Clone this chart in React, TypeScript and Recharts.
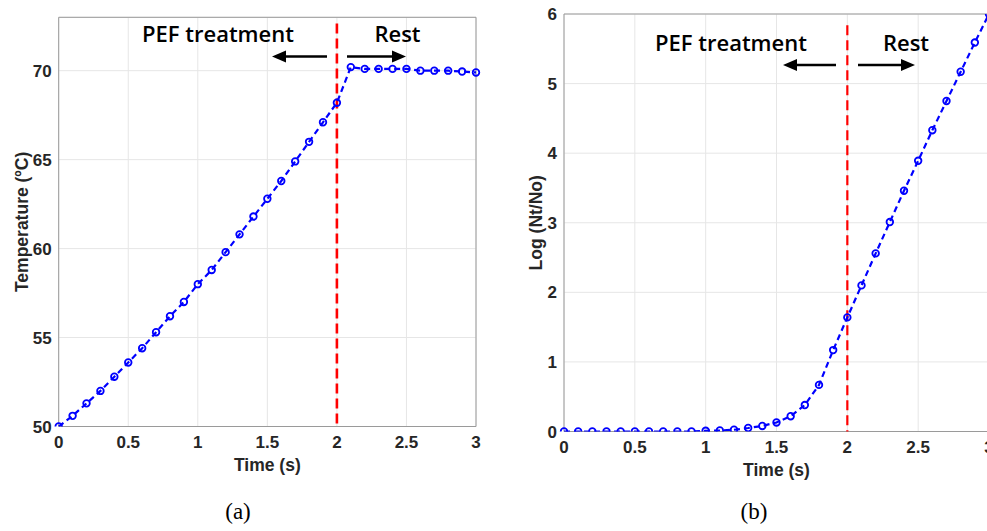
import {
  LineChart,
  Line,
  XAxis,
  YAxis,
  CartesianGrid,
  ReferenceLine,
  ReferenceArea,
} from "recharts";

const timeS = [
  0, 0.1, 0.2, 0.3, 0.4, 0.5, 0.6, 0.7, 0.8, 0.9, 1, 1.1, 1.2, 1.3, 1.4, 1.5,
  1.6, 1.7, 1.8, 1.9, 2, 2.1, 2.2, 2.3, 2.4, 2.5, 2.6, 2.7, 2.8, 2.9, 3,
];
const temperatureC = [
  50, 50.6, 51.3, 52.0, 52.8, 53.6, 54.4, 55.3, 56.2, 57.0, 58.0, 58.8, 59.8,
  60.8, 61.8, 62.8, 63.8, 64.9, 66.0, 67.1, 68.2, 70.2, 70.1, 70.1, 70.1, 70.1,
  70.0, 70.0, 70.0, 69.95, 69.9,
];
const logNtNo = [
  0, 0, 0, 0, 0, 0, 0, 0, 0, 0, 0.01, 0.015, 0.025, 0.05, 0.08, 0.13, 0.22,
  0.38, 0.67, 1.17, 1.64, 2.1, 2.56, 3.01, 3.46, 3.89, 4.33, 4.75, 5.17, 5.59,
  6.0,
];
const timeTicks = [0, 0.5, 1, 1.5, 2, 2.5, 3];
const tempTicks = [50, 55, 60, 65, 70];
const logTicks = [0, 1, 2, 3, 4, 5, 6];

const tempData = timeS.map((t, i) => ({ t, v: temperatureC[i] }));
const logData = timeS.map((t, i) => ({ t, v: logNtNo[i] }));

const tickStyle = {
  fill: "#262626",
  fontSize: 17,
  fontWeight: 700,
  fontFamily: "'Liberation Sans', Arial, sans-serif",
};
const labelStyle = {
  fill: "#262626",
  fontSize: 17.5,
  fontWeight: 700,
  fontFamily: "'Liberation Sans', Arial, sans-serif",
  textAnchor: "middle" as const,
};
const noteFont = {
  fontFamily: "'Open Sans', sans-serif",
  fontWeight: 600,
  fontSize: 22,
  fill: "#000",
};

function Panel({
  data,
  yDomain,
  yTicks,
  yLabel,
  yLabelOffset,
  redTop,
  width,
  yAxisWidth,
  margin,
  redWidth,
}: {
  data: { t: number; v: number }[];
  yDomain: [number, number];
  yTicks: number[];
  yLabel: string;
  yLabelOffset: number;
  redTop: number;
  width: number;
  yAxisWidth: number;
  margin: { top: number; right: number; bottom: number; left: number };
  redWidth: number;
}) {
  return (
    <LineChart width={width} height={531} data={data} margin={margin}>
      <CartesianGrid stroke="#e6e6e6" />
      <XAxis
        dataKey="t"
        type="number"
        domain={[0, 3]}
        ticks={timeTicks}
        height={50}
        axisLine={false}
        tickLine={false}
        tickSize={7}
        tickMargin={2}
        tick={tickStyle}
        label={{
          value: "Time (s)",
          position: "insideBottom",
          offset: 6,
          style: labelStyle,
        }}
      />
      <YAxis
        type="number"
        domain={yDomain}
        ticks={yTicks}
        width={yAxisWidth}
        axisLine={false}
        tickLine={false}
        tickSize={5}
        tickMargin={2}
        tick={tickStyle}
        allowDataOverflow
        label={{
          value: yLabel,
          angle: -90,
          position: "insideLeft",
          offset: yLabelOffset,
          style: labelStyle,
        }}
      />
      <ReferenceArea
        x1={0}
        x2={3}
        y1={yDomain[0]}
        y2={yDomain[1]}
        fill="none"
        stroke="#9a9a9a"
        strokeWidth={1}
        ifOverflow="visible"
      />
      <ReferenceLine
        segment={[
          { x: 2, y: redTop },
          { x: 2, y: yDomain[0] },
        ]}
        stroke="#ff0000"
        strokeWidth={redWidth}
        strokeDasharray="10 5"
      />
      <Line
        type="linear"
        dataKey="v"
        stroke="#0000ff"
        strokeWidth={2.2}
        strokeDasharray="6 4"
        dot={{
          r: 3.3,
          stroke: "#0000ff",
          strokeWidth: 1.8,
          fill: "none",
          strokeDasharray: "none",
        }}
        isAnimationActive={false}
      />
    </LineChart>
  );
}

function Arrow({ tail, tip, y }: { tail: number; tip: number; y: number }) {
  const dir = tip > tail ? 1 : -1;
  const head = 14;
  return (
    <g>
      <line
        x1={tail}
        y1={y}
        x2={tip - dir * head}
        y2={y}
        stroke="#000"
        strokeWidth={2.5}
      />
      <polygon
        points={`${tip},${y} ${tip - dir * head},${y - 6} ${tip - dir * head},${y + 6}`}
        fill="#000"
      />
    </g>
  );
}

export default function App() {
  return (
    <div
      style={{
        position: "fixed",
        left: 0,
        top: 0,
        width: 987,
        height: 531,
        overflow: "hidden",
        background: "#fff",
      }}
    >
      <div style={{ position: "absolute", left: 0, top: 0 }}>
        <Panel
          data={tempData}
          yDomain={[50, 73]}
          yTicks={tempTicks}
          yLabel="Temperature (ºC)"
          yLabelOffset={22}
          redTop={72.65}
          width={490}
          yAxisWidth={58.7}
          margin={{ top: 17.3, right: 14, bottom: 54.5, left: 0 }}
          redWidth={2.6}
        />
      </div>
      <div style={{ position: "absolute", left: 497, top: 0 }}>
        <Panel
          data={logData}
          yDomain={[0, 6]}
          yTicks={logTicks}
          yLabel="Log (Nt/No)"
          yLabelOffset={39}
          redTop={5.84}
          width={497}
          yAxisWidth={67}
          margin={{ top: 14, right: 5, bottom: 49.5, left: 0 }}
          redWidth={2.2}
        />
      </div>
      <svg
        width={987}
        height={531}
        style={{ position: "absolute", left: 0, top: 0, pointerEvents: "none" }}
      >
        <text x={218} y={42} textAnchor="middle" style={noteFont}>
          PEF treatment
        </text>
        <text x={397.5} y={42} textAnchor="middle" style={noteFont}>
          Rest
        </text>
        <Arrow tail={327} tip={272} y={56.6} />
        <Arrow tail={347} tip={406} y={56.6} />

        <text x={731} y={51} textAnchor="middle" style={noteFont}>
          PEF treatment
        </text>
        <text x={906} y={51} textAnchor="middle" style={noteFont}>
          Rest
        </text>
        <Arrow tail={836} tip={783} y={65} />
        <Arrow tail={858} tip={915} y={65} />

        <text
          x={238}
          y={519}
          textAnchor="middle"
          fontFamily="'Liberation Serif', serif"
          fontSize={23}
          fill="#000"
        >
          (a)
        </text>
        <text
          x={754}
          y={519}
          textAnchor="middle"
          fontFamily="'Liberation Serif', serif"
          fontSize={23}
          fill="#000"
        >
          (b)
        </text>
      </svg>
    </div>
  );
}
